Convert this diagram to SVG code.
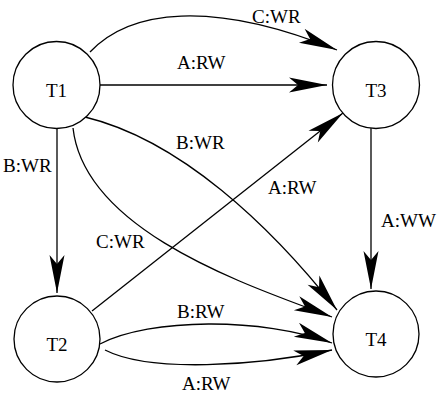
<svg xmlns="http://www.w3.org/2000/svg" width="438" height="394" viewBox="0 0 438 394">
<style>
.node circle{fill:#fff;stroke:#000;stroke-width:1.3}
.nt{text-anchor:middle}
.edge{fill:none;stroke:#000;stroke-width:1.3;marker-end:url(#ah)}
</style>
<defs>
<marker id="ah" markerUnits="userSpaceOnUse" markerWidth="40" markerHeight="16" refX="38" refY="7.5" orient="auto" overflow="visible">
<path d="M0,0 L38,7.5 L0,15 L9,7.5 Z" fill="#000"/>
</marker>
</defs>
<rect width="438" height="394" fill="#fff"/>
<g id="connectors">
<path class="edge" d="M90,52 C130,10 211,-1 337,50"/>
<path class="edge" d="M100,85 L327,85"/>
<path class="edge" d="M57,128 L57,293"/>
<path class="edge" d="M371,128 L371,289"/>
<path class="edge" d="M92,311 L343,113"/>
<path class="edge" d="M85,117 C180,140 270,225 337,310"/>
<path class="edge" d="M73,128 C85,235 260,289 332,317"/>
<path class="edge" d="M100,344 C150,318 262,317 332,343"/>
<path class="edge" d="M105,350 C150,373 256,366 332,350"/>
</g>
<g font-family="'Liberation Serif', 'Times New Roman', serif" font-size="19" fill="#000">
<g id="labels">
<text x="252" y="23">C:WR</text>
<text x="177" y="69">A:RW</text>
<text x="176" y="149">B:WR</text>
<text x="3" y="172">B:WR</text>
<text x="268" y="194">A:RW</text>
<text x="381" y="227">A:WW</text>
<text x="96" y="248">C:WR</text>
<text x="177" y="318">B:RW</text>
<text x="182" y="390">A:RW</text>
</g>
<g id="T1" class="node"><circle cx="56.5" cy="85" r="43.5"/><text class="nt" x="56.5" y="97">T1</text></g>
<g id="T2" class="node"><circle cx="57" cy="339" r="43"/><text class="nt" x="57" y="351">T2</text></g>
<g id="T3" class="node"><circle cx="376" cy="85" r="43.5"/><text class="nt" x="376" y="97">T3</text></g>
<g id="T4" class="node"><circle cx="376" cy="334" r="43"/><text class="nt" x="376" y="346">T4</text></g>
</g>
</svg>
